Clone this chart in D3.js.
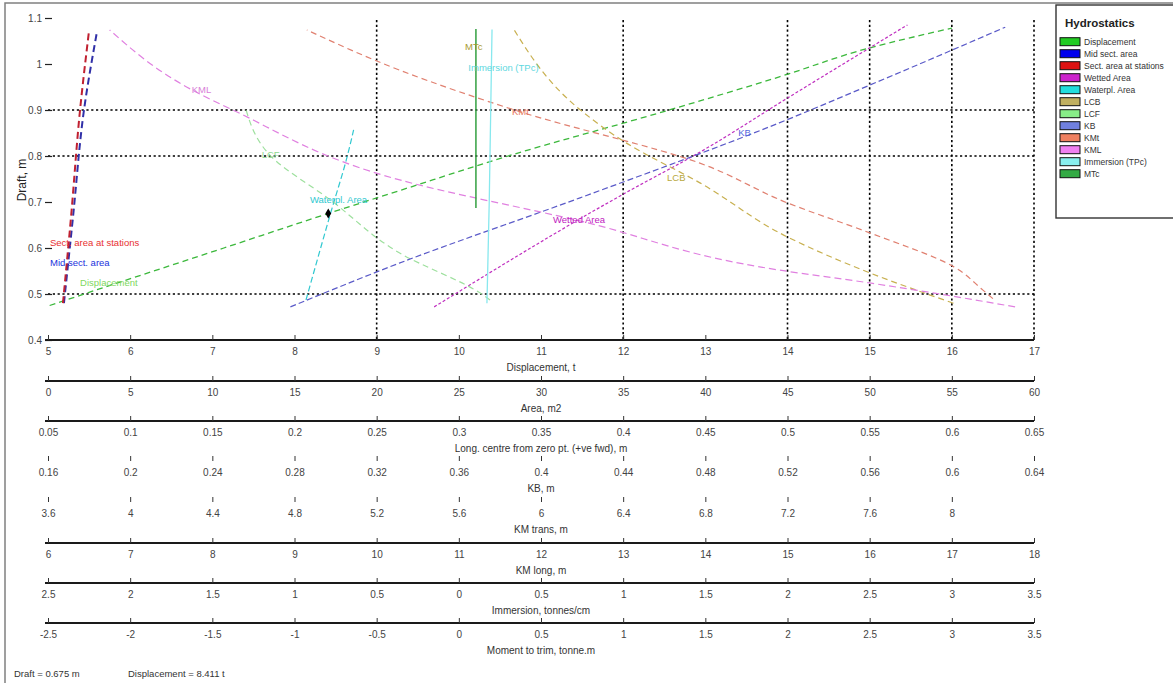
<!DOCTYPE html>
<html><head><meta charset="utf-8">
<script src="https://cdn.jsdelivr.net/npm/d3@7"></script>
<style>
body{margin:0;background:#fff}
svg{display:block;font-family:Arial,"Liberation Sans",sans-serif}
</style>
</head><body>
<svg id="c" width="1173" height="683"></svg>
<script>
// ---------------- data ----------------
const draftTicks = [0.4, 0.5, 0.6, 0.7, 0.8, 0.9, 1.0, 1.1];
const draftTickLabels = ["0.4","0.5","0.6","0.7","0.8","0.9","1","1.1"];
const gridDisp = [9, 12, 14, 15, 16, 17];
const gridDraft = [0.5, 0.8, 0.9];

const axisTitles = ["Displacement, t","Area, m2","Long. centre from zero pt. (+ve fwd), m","KB, m","KM trans, m","KM long, m","Immersion, tonnes/cm","Moment to trim, tonne.m"];
const dispTicks = [5,6,7,8,9,10,11,12,13,14,15,16,17];
const dispTickLabels = ["5","6","7","8","9","10","11","12","13","14","15","16","17"];
const areaTicks = [0,5,10,15,20,25,30,35,40,45,50,55,60];
const areaTickLabels = ["0","5","10","15","20","25","30","35","40","45","50","55","60"];
const lcTicks = [0.05,0.1,0.15,0.2,0.25,0.3,0.35,0.4,0.45,0.5,0.55,0.6,0.65];
const lcTickLabels = ["0.05","0.1","0.15","0.2","0.25","0.3","0.35","0.4","0.45","0.5","0.55","0.6","0.65"];
const kbTicks = [0.16,0.2,0.24,0.28,0.32,0.36,0.4,0.44,0.48,0.52,0.56,0.6,0.64];
const kbTickLabels = ["0.16","0.2","0.24","0.28","0.32","0.36","0.4","0.44","0.48","0.52","0.56","0.6","0.64"];
const kmtTicks = [3.6,4.0,4.4,4.8,5.2,5.6,6.0,6.4,6.8,7.2,7.6,8.0];
const kmtTickLabels = ["3.6","4","4.4","4.8","5.2","5.6","6","6.4","6.8","7.2","7.6","8"];
const kmtDomain = [3.6, 8.4];
const kmlTicks = [6,7,8,9,10,11,12,13,14,15,16,17,18];
const kmlTickLabels = ["6","7","8","9","10","11","12","13","14","15","16","17","18"];
const tpcTicks = [-2.5,-2,-1.5,-1,-0.5,0,0.5,1,1.5,2,2.5,3,3.5];
const tpcTickLabels = ["2.5","2","1.5","1","0.5","0","0.5","1","1.5","2","2.5","3","3.5"];
const mtcTicks = [-2.5,-2,-1.5,-1,-0.5,0,0.5,1,1.5,2,2.5,3,3.5];
const mtcTickLabels = ["-2.5","-2","-1.5","-1","-0.5","0","0.5","1","1.5","2","2.5","3","3.5"];

// series: draft (m) vs property in its own units
const dispDraft = [0.475, 0.5, 0.6, 0.675, 0.726, 0.8, 0.9, 0.972, 1.035, 1.078];
const dispValues = [5.02, 5.44, 7.14, 8.41, 9.3, 10.6, 12.56, 13.9, 15.0, 16.0];
const midAreaDraft = [0.48, 0.667, 0.9, 1.07];
const midAreaValues = [0.97, 1.52, 2.19, 2.98];
const sectAreaDraft = [0.48, 0.667, 0.9, 1.07];
const sectAreaValues = [0.91, 1.40, 1.95, 2.49];
const wettedDraft = [0.472, 0.717, 0.809, 0.926, 1.085];
const wettedValues = [23.5, 35.0, 39.7, 45.0, 52.3];
const wplDraft = [0.487, 0.676, 0.798, 0.857];
const wplValues = [15.7, 17.2, 18.2, 18.6];
const lcbDraft = [1.078, 0.9, 0.828, 0.741, 0.624, 0.546, 0.48];
const lcbValues = [0.333, 0.374, 0.402, 0.447, 0.500, 0.550, 0.601];
const lcfDraft = [0.907, 0.802, 0.704, 0.589, 0.502, 0.487];
const lcfValues = [0.170, 0.185, 0.222, 0.264, 0.313, 0.319];
const kbDraft = [0.472, 0.567, 0.709, 0.872, 0.954, 1.08];
const kbValues = [0.278, 0.331, 0.419, 0.516, 0.560, 0.626];
const kmtDraft = [1.074, 0.987, 0.896, 0.785, 0.698, 0.633, 0.559, 0.509, 0.49];
const kmtValues = [4.86, 5.31, 5.90, 6.77, 7.20, 7.60, 8.01, 8.15, 8.2];
const kmlDraft = [1.074, 0.943, 0.9, 0.748, 0.659, 0.552, 0.524, 0.472];
const kmlValues = [6.75, 7.76, 8.25, 10.28, 12.47, 14.9, 16.0, 17.77];
const tpcDraft = [0.48, 0.7, 1.075];
const tpcValues = [0.171, 0.185, 0.202];
const mtcDraft = [0.687, 1.076];
const mtcValues = [0.104, 0.104];

const currentDraft = 0.675;
const currentDisp = 8.411;

const seriesNames = ["Displacement","Mid sect. area","Sect. area at stations","Wetted Area","Waterpl. Area","LCB","LCF","KB","KMt","KML","Immersion (TPc)","MTc"];
const legendColors = ["#22cc22","#0000ee","#dd1111","#cc22cc","#22dddd","#c0b060","#88ee88","#7080e0","#f08060","#f080f0","#88eeee","#33aa44"];

// ---------------- layout ----------------
const svg = d3.select("#c");
const X0 = 48, X1 = 1034;
const axisY = [340, 381, 421, 461, 502, 543, 583, 623];
const axisVisible = [true, true, true, false, false, true, true, true];

const y = d3.scaleLinear().domain([0.4, 1.1]).range([340, 18]);
const xs = [
  d3.scaleLinear().domain([5, 17]).range([X0, X1]),
  d3.scaleLinear().domain([0, 60]).range([X0, X1]),
  d3.scaleLinear().domain([0.05, 0.65]).range([X0, X1]),
  d3.scaleLinear().domain([0.16, 0.64]).range([X0, X1]),
  d3.scaleLinear().domain(kmtDomain).range([X0, X1]),
  d3.scaleLinear().domain([6, 18]).range([X0, X1]),
  d3.scaleLinear().domain([-2.5, 3.5]).range([X0, X1]),
  d3.scaleLinear().domain([-2.5, 3.5]).range([X0, X1])
];
const tickSets = [dispTicks, areaTicks, lcTicks, kbTicks, kmtTicks, kmlTicks, tpcTicks, mtcTicks];
const tickLabelSets = [dispTickLabels, areaTickLabels, lcTickLabels, kbTickLabels, kmtTickLabels, kmlTickLabels, tpcTickLabels, mtcTickLabels];

// frame
svg.append("path").attr("d", "M5,683 V3 H1173").attr("fill", "none").attr("stroke", "#808080").attr("stroke-width", 1.5);

// gridlines
const grid = svg.append("g").attr("stroke", "#000").attr("stroke-width", 1.6).attr("stroke-dasharray", "2.2,2.6");
grid.selectAll("line.v").data(gridDisp).join("line").attr("class", "v")
  .attr("x1", d => xs[0](d)).attr("x2", d => xs[0](d)).attr("y1", y(1.1) + 2).attr("y2", y(0.4));
grid.selectAll("line.h").data(gridDraft).join("line").attr("class", "h")
  .attr("x1", X0).attr("x2", X1).attr("y1", d => y(d)).attr("y2", d => y(d));

// y axis
const yAxis = d3.axisLeft(y).tickValues(draftTicks).tickFormat((d, i) => draftTickLabels[i]).tickSizeInner(-7).tickSizeOuter(0).tickPadding(3);
const gy = svg.append("g").attr("transform", "translate(45,0)").call(yAxis);
gy.select(".domain").remove();
gy.selectAll("line").attr("stroke", "#222").attr("stroke-width", 1.2);
gy.selectAll("text").attr("font-size", 10).attr("fill", "#444");
svg.append("text").attr("transform", "translate(26,180) rotate(-90)").attr("text-anchor", "middle")
  .attr("font-size", 12).attr("fill", "#222").text("Draft, m");

// x axes
axisY.forEach((ay, k) => {
  const ax = d3.axisBottom(xs[k]).tickValues(tickSets[k]).tickFormat((d, i) => tickLabelSets[k][i])
    .tickSizeInner(-5).tickSizeOuter(0).tickPadding(8);
  const g = svg.append("g").attr("transform", `translate(0,${ay})`).call(ax);
  g.select(".domain").attr("stroke", axisVisible[k] ? "#1a1a1a" : "none").attr("stroke-width", 2.2)
    .attr("d", `M45,0H${X1}`);
  g.selectAll(".tick line").attr("stroke", "#333").attr("stroke-width", 1);
  g.selectAll("text").attr("font-size", 10).attr("fill", "#444");
  svg.append("text").attr("x", (X0 + X1) / 2).attr("y", ay + 30.5).attr("text-anchor", "middle")
    .attr("font-size", 10).attr("fill", "#333").text(axisTitles[k]);
});

// series
const series = [
  {d: dispDraft, v: dispValues, ax: 0, c: "#3cb83c", dash: "6,4", w: 1.3},
  {d: midAreaDraft, v: midAreaValues, ax: 1, c: "#3030a8", dash: "7,4", w: 2},
  {d: sectAreaDraft, v: sectAreaValues, ax: 1, c: "#c02030", dash: "7,4", w: 2},
  {d: wettedDraft, v: wettedValues, ax: 1, c: "#c030c0", dash: "3,2", w: 1.2},
  {d: wplDraft, v: wplValues, ax: 1, c: "#30c8d0", dash: "6,3", w: 1.2},
  {d: lcbDraft, v: lcbValues, ax: 2, c: "#c8b050", dash: "6,4", w: 1.2},
  {d: lcfDraft, v: lcfValues, ax: 2, c: "#9ee09e", dash: "6,4", w: 1.2},
  {d: kbDraft, v: kbValues, ax: 3, c: "#5a5ac8", dash: "6,3", w: 1.2},
  {d: kmtDraft, v: kmtValues, ax: 4, c: "#e08070", dash: "6,4", w: 1.2},
  {d: kmlDraft, v: kmlValues, ax: 5, c: "#e080e0", dash: "7,4", w: 1.2},
  {d: tpcDraft, v: tpcValues, ax: 6, c: "#88e8ee", dash: null, w: 1.3},
  {d: mtcDraft, v: mtcValues, ax: 7, c: "#33a040", dash: null, w: 1.5}
];
series.forEach(s => {
  const pts = s.d.map((t, i) => [xs[s.ax](s.v[i]), y(t)]);
  svg.append("path").attr("d", d3.line().curve(d3.curveMonotoneY)(pts.slice().sort((a, b) => b[1] - a[1])))
    .attr("fill", "none").attr("stroke", s.c).attr("stroke-width", s.w)
    .attr("stroke-dasharray", s.dash);
});

// current point marker
svg.append("path").attr("d", d3.symbol(d3.symbolDiamond, 30)())
  .attr("transform", `translate(${xs[0](currentDisp)},${y(currentDraft)})`).attr("fill", "#000");

// curve labels (positions in data units of each curve's axis)
const curveLabels = [
  {t: "KML", ax: 5, v: 7.75, d: 0.937, c: "#d880d8"},
  {t: "LCF", ax: 2, v: 0.180, d: 0.796, c: "#8ed88e"},
  {t: "Waterpl. Area", ax: 1, v: 15.94, d: 0.698, c: "#30c8d0"},
  {t: "Sect. area at stations", ax: 1, v: 0.12, d: 0.604, c: "#e83030"},
  {t: "Mid sect. area", ax: 1, v: 0.12, d: 0.561, c: "#2233dd"},
  {t: "Displacement", ax: 0, v: 5.39, d: 0.517, c: "#80d860"},
  {t: "MTc", ax: 7, v: 0.0375, d: 1.03, c: "#a89a30"},
  {t: "Immersion (TPc)", ax: 6, v: 0.058, d: 0.985, c: "#60d8e0"},
  {t: "KMt", ax: 4, v: 5.859, d: 0.889, c: "#e87860"},
  {t: "Wetted Area", ax: 1, v: 30.73, d: 0.654, c: "#c020c0"},
  {t: "LCB", ax: 2, v: 0.4267, d: 0.746, c: "#b8a840"},
  {t: "KB", ax: 3, v: 0.496, d: 0.843, c: "#5566dd"}
];
svg.selectAll("text.cl").data(curveLabels).join("text").attr("class", "cl")
  .attr("x", d => xs[d.ax](d.v)).attr("y", d => y(d.d)).attr("font-size", 9.5)
  .attr("fill", d => d.c).text(d => d.t);

// legend
const lg = svg.append("g");
lg.append("rect").attr("x", 1056).attr("y", 5).attr("width", 140).attr("height", 213)
  .attr("fill", "#fff").attr("stroke", "#333").attr("stroke-width", 1.4);
lg.append("text").attr("x", 1065).attr("y", 27).attr("font-size", 11.5).attr("font-weight", "bold")
  .attr("fill", "#222").text("Hydrostatics");
const rows = lg.selectAll("g.r").data(seriesNames).join("g").attr("class", "r")
  .attr("transform", (d, i) => `translate(0,${41.7 + i * 12})`);
rows.append("rect").attr("x", 1060).attr("y", -4).attr("width", 20).attr("height", 8)
  .attr("fill", (d, i) => legendColors[i]).attr("stroke", "#111").attr("stroke-width", 1);
rows.append("text").attr("x", 1084).attr("y", 3.2).attr("font-size", 8.5).attr("fill", "#333").text(d => d);

// status text
svg.append("text").attr("x", 14).attr("y", 677).attr("font-size", 9.5).attr("fill", "#333")
  .text(`Draft = ${currentDraft.toFixed(3)} m`);
svg.append("text").attr("x", 128).attr("y", 677).attr("font-size", 9.5).attr("fill", "#333")
  .text(`Displacement = ${currentDisp.toFixed(3)} t`);
</script>
</body></html>
